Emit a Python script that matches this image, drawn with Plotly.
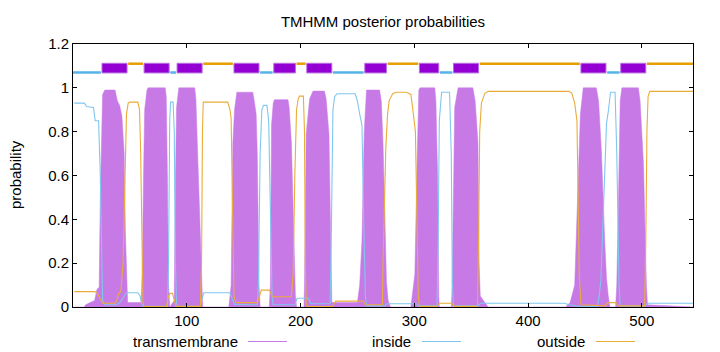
import plotly.graph_objects as go

# ---------------- data ----------------
seq_len = 545
tm_start = [26, 63, 92, 142, 177, 206, 257, 305, 335, 447, 482]
tm_end = [47, 84, 113, 163, 195, 227, 275, 321, 356, 468, 503]
first_loop_side = "inside"

inside_x = [1, 10, 12, 18, 19.5, 22.5, 24, 25, 26, 28, 38, 41, 44, 46, 48, 57, 59, 60.5, 62,
            83, 84, 85, 85.8, 88, 89, 90, 91, 92, 112, 113, 115, 138, 140, 142, 162, 163, 164.5,
            166, 167.5, 170.5, 172, 173.5, 175, 176, 195, 197, 207, 209, 226, 227, 228.5, 230,
            232, 248, 250, 252, 254, 255.5, 257, 258, 274, 276, 302, 303, 320, 321, 322, 324,
            331, 332.5, 333.5, 334.5, 356, 358, 432, 436, 446, 461, 462.5, 464, 467, 469, 470.5,
            472.5, 476.5, 478, 480, 481, 503, 505, 545]
inside_y = [0.93, 0.93, 0.915, 0.91, 0.85, 0.85, 0.6, 0.2, 0.03, 0.01, 0.01, 0.02, 0.04, 0.06,
            0.065, 0.065, 0.05, 0.01, 0.003, 0.003, 0.2, 0.85, 0.935, 0.935, 0.8, 0.2, 0.02, 0.003,
            0.003, 0.03, 0.065, 0.065, 0.04, 0.012, 0.01, 0.1, 0.7, 0.9, 0.92, 0.92, 0.85, 0.4,
            0.05, 0.01, 0.01, 0.04, 0.04, 0.015, 0.015, 0.3, 0.9, 0.96, 0.973, 0.973, 0.94, 0.88,
            0.83, 0.4, 0.05, 0.005, 0.005, 0.015, 0.015, 0.005, 0.005, 0.3, 0.85, 0.98, 0.98, 0.7,
            0.1, 0.005, 0.005, 0.017, 0.017, 0.01, 0.002, 0.002, 0.05, 0.12, 0.6, 0.84, 0.89, 0.98,
            0.98, 0.7, 0.1, 0.005, 0.005, 0.017, 0.017]

outside_x = [1, 19, 21, 24, 26, 37, 38.5, 40, 42, 44, 45.5, 47, 48.5, 50, 57, 58.5, 59.5, 60.5,
             61.5, 62.5, 82, 83.5, 85, 87.5, 89, 90.5, 112, 113, 113.8, 114.5, 136, 138, 139, 140,
             141.5, 143, 162, 164, 165.5, 172.5, 174, 175.5, 192, 193.5, 195, 196.5, 198, 199,
             202.5, 203.5, 204.2, 205, 206, 228, 231, 255, 257, 272, 272.5, 274, 275, 276.5, 278,
             281, 284, 293, 297, 298.5, 301, 302, 303.5, 304.5, 320, 322, 333, 334.5, 355.5, 356.5,
             357.5, 359, 362, 365, 436, 438.5, 441, 443, 444, 445, 446.5, 468, 470, 477, 479,
             502.5, 503.5, 504.5, 505.5, 507, 545]
outside_y = [0.07, 0.07, 0.065, 0.04, 0.017, 0.017, 0.03, 0.06, 0.07, 0.2, 0.6, 0.88, 0.93, 0.935,
             0.935, 0.9, 0.7, 0.2, 0.02, 0.002, 0.002, 0.04, 0.062, 0.062, 0.03, 0.003, 0.003, 0.2,
             0.8, 0.935, 0.935, 0.9, 0.86, 0.5, 0.05, 0.02, 0.02, 0.05, 0.077, 0.077, 0.06, 0.047,
             0.047, 0.15, 0.6, 0.9, 0.95, 0.962, 0.962, 0.8, 0.2, 0.01, 0.002, 0.002, 0.027, 0.027,
             0.01, 0.01, 0.2, 0.5, 0.73, 0.88, 0.943, 0.973, 0.98, 0.98, 0.97, 0.91, 0.8, 0.5, 0.05,
             0.003, 0.003, 0.017, 0.017, 0.003, 0.003, 0.3, 0.8, 0.93, 0.975, 0.984, 0.984, 0.975,
             0.93, 0.85, 0.5, 0.15, 0.01, 0.005, 0.02, 0.02, 0.005, 0.005, 0.3, 0.8, 0.96, 0.984,
             0.984]

tm_x = [1, 10, 11, 15, 19, 21, 23, 24, 25, 26, 28, 37, 39, 41, 43, 45, 46, 47, 48, 60, 61, 62, 63,
        65, 66, 81, 82, 83, 84, 85, 89, 90, 91, 93, 107, 108, 109.5, 111, 112.5, 113.5, 114, 137,
        139, 140.5, 142, 144, 158, 159, 161, 162, 163.5, 164.5, 172.5, 173.5, 174.5, 176, 177,
        189, 190, 192, 194, 195.5, 196.5, 203, 203.5, 205, 208, 211, 221, 222.5, 225, 226.5,
        227.5, 250, 252, 254, 256, 258, 269.5, 271, 272.5, 274, 275.5, 277, 279, 297, 298, 300.5,
        302.5, 304, 305, 318, 319, 320.5, 321.5, 322, 332.5, 333, 334, 335.5, 338.5, 351.5, 353.5,
        356, 357, 358, 362, 365, 433, 437, 441, 443, 444.5, 446, 448.5, 460, 462, 464.5, 467.5,
        469, 470.5, 472, 477, 478, 479.5, 481, 482.5, 497, 498.5, 501.5, 504, 505, 545]
tm_y = [0, 0, 0.01, 0.02, 0.03, 0.08, 0.09, 0.5, 0.85, 0.97, 0.99, 0.99, 0.94, 0.92, 0.87, 0.7,
        0.35, 0.13, 0.02, 0.02, 0.2, 0.6, 0.9, 0.99, 1.0, 1.0, 0.96, 0.6, 0.1, 0, 0.03, 0.55, 0.91,
        1.0, 1.0, 0.95, 0.7, 0.5, 0.3, 0.05, 0, 0, 0.1, 0.75, 0.9, 0.98, 0.98, 0.95, 0.88, 0.7,
        0.1, 0, 0, 0.1, 0.83, 0.93, 0.946, 0.946, 0.91, 0.75, 0.3, 0.05, 0, 0, 0.1, 0.79, 0.95,
        0.985, 0.985, 0.95, 0.79, 0.3, 0.02, 0.02, 0.1, 0.3, 0.8, 0.99, 0.99, 0.94, 0.75, 0.45,
        0.12, 0.03, 0, 0, 0.05, 0.15, 0.67, 0.99, 1.0, 1.0, 0.94, 0.6, 0.05, 0, 0, 0.05, 0.35, 0.91,
        1.0, 1.0, 0.94, 0.75, 0.2, 0.05, 0.02, 0, 0, 0.02, 0.1, 0.4, 0.6, 0.88, 1.0, 1.0, 0.94,
        0.71, 0.29, 0.13, 0.05, 0, 0, 0.1, 0.5, 0.94, 1.0, 1.0, 0.94, 0.65, 0.1, 0.01, 0]

x_tick_vals = [100, 200, 300, 400, 500]
y_tick_vals = [0, 0.2, 0.4, 0.6, 0.8, 1, 1.2]
y_tick_text = ["0", "0.2", "0.4", "0.6", "0.8", "1", "1.2"]

title_text = "TMHMM posterior probabilities"
y_title = "probability"
legend_names = ["transmembrane", "inside", "outside"]

# ---------------- style ----------------
FONT = "Liberation Sans, Arial, sans-serif"
C_TM_DARK = "#9400d3"
C_TM_FILL = "#c77ae6"
C_IN = "#56b4e9"
C_OUT = "#e69f00"
C_IN_THIN = "#80c6ee"
C_OUT_THIN = "#eaac3a"

L, R, T, B = 73, 27, 44, 45
W, H = 720, 352
PW, PH = W - L - R, H - T - B

def px_x(p):
    return (p - L) / PW

def px_y(p):
    return (H - B - p) / PH

fig = go.Figure()
fig.add_trace(go.Scatter(x=tm_x, y=tm_y, mode="lines", fill="tozeroy",
                         fillcolor=C_TM_FILL, line=dict(color=C_TM_FILL, width=0.5),
                         name=legend_names[0], showlegend=False, hoverinfo="skip"))
fig.add_trace(go.Scatter(x=inside_x, y=inside_y, mode="lines",
                         line=dict(color=C_IN_THIN, width=1.1),
                         name=legend_names[1], showlegend=False))
fig.add_trace(go.Scatter(x=outside_x, y=outside_y, mode="lines",
                         line=dict(color=C_OUT_THIN, width=1.1),
                         name=legend_names[2], showlegend=False))

shapes = []
# topology bar
IN_Y, OUT_Y, BOX_LO, BOX_HI = 1.07, 1.11, 1.068, 1.112
for s, e in zip(tm_start, tm_end):
    shapes.append(dict(type="rect", xref="x", yref="y", x0=s - 0.5, x1=e + 0.5,
                       y0=BOX_LO, y1=BOX_HI, fillcolor=C_TM_DARK,
                       line=dict(color="#b56ae0", width=1), layer="above"))
loop_bounds = [(0, tm_start[0] - 1.5)]
for i in range(len(tm_start) - 1):
    loop_bounds.append((tm_end[i] + 1.5, tm_start[i + 1] - 1.5))
loop_bounds.append((tm_end[-1] + 1.5, seq_len))
side = first_loop_side
for a, b in loop_bounds:
    yy = IN_Y if side == "inside" else OUT_Y
    col = C_IN if side == "inside" else C_OUT
    shapes.append(dict(type="line", xref="x", yref="y", x0=a, x1=b, y0=yy, y1=yy,
                       line=dict(color=col, width=2.5), layer="above"))
    side = "outside" if side == "inside" else "inside"

# manual legend (text then line sample, gnuplot style)
legend_cols = [C_TM_FILL, C_IN_THIN, C_OUT_THIN]
legend_text_right = [240, 413, 587]
legend_line_px = [(248, 287), (422, 461), (596, 635)]
leg_y = px_y(341.5)
annotations = []
for name, col, tr, (l0, l1) in zip(legend_names, legend_cols, legend_text_right, legend_line_px):
    annotations.append(dict(text=name, xref="paper", yref="paper", x=px_x(tr), y=leg_y,
                            xanchor="right", yanchor="middle", showarrow=False,
                            font=dict(family=FONT, size=15, color="#000")))
    shapes.append(dict(type="line", xref="paper", yref="paper", x0=px_x(l0), x1=px_x(l1),
                       y0=leg_y, y1=leg_y, line=dict(color=col, width=1.2)))

annotations.append(dict(text=y_title, xref="paper", yref="paper", x=px_x(15), y=px_y(175),
                        xanchor="center", yanchor="middle", textangle=-90, showarrow=False,
                        font=dict(family=FONT, size=15, color="#000")))

fig.update_layout(
    width=W, height=H,
    margin=dict(l=L, r=R, t=T, b=B),
    paper_bgcolor="white", plot_bgcolor="white",
    font=dict(family=FONT, size=15, color="#000"),
    title=dict(text=title_text, x=383 / W, y=1 - 22 / H, xref="container", yref="container",
               xanchor="center", yanchor="middle", font=dict(family=FONT, size=15, color="#000")),
    shapes=shapes, annotations=annotations, showlegend=False,
)
fig.update_xaxes(range=[0, seq_len], tickvals=x_tick_vals, ticks="inside", ticklen=4,
                 tickcolor="#000", showline=True, linecolor="#000", linewidth=1,
                 mirror="ticks", showgrid=False, zeroline=False,
                 tickfont=dict(family=FONT, size=15, color="#000"))
fig.update_yaxes(range=[0, 1.2], tickvals=y_tick_vals, ticktext=y_tick_text, ticks="inside",
                 ticklen=4, tickcolor="#000", showline=True, linecolor="#000", linewidth=1,
                 mirror="ticks", showgrid=False, zeroline=False,
                 tickfont=dict(family=FONT, size=15, color="#000"))

fig.write_html("out.html")
